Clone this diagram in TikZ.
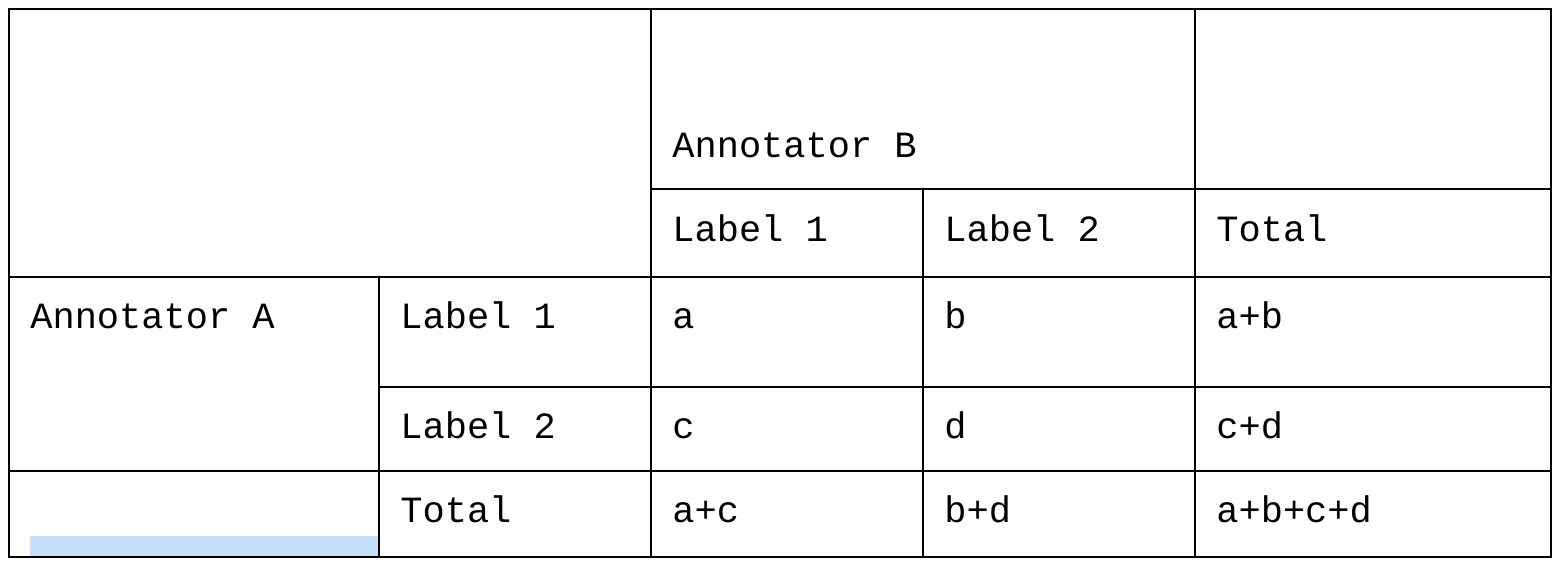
\documentclass[tikz,border=0pt]{standalone}
\usepackage{fontspec}
\setmonofont{Liberation Mono}
\usepackage{tikz}
\definecolor{selblue}{HTML}{C6E0FC}
\tikzstyle{cell} = [anchor=base west, inner sep=0pt, font=\ttfamily\fontsize{18.5}{22}\selectfont, text=black]
\tikzstyle{grid} = [line width=1pt, black]

\begin{document}
\begin{tikzpicture}[x=0.5pt, y=-0.5pt]
		\useasboundingbox (0,0) rectangle (1562,564);
		\fill [selblue] (30,536) rectangle (379,557);
		% header
		\node (annb) [cell] at (672,157) {Annotator B};
		\node (hl1) [cell] at (672,241) {Label 1};
		\node (hl2) [cell] at (944,241) {Label 2};
		\node (htot) [cell] at (1216,241) {Total};
		% rows
		\node (anna) [cell] at (30,328) {Annotator A};
		\node (rl1) [cell] at (400,328) {Label 1};
		\node (ca) [cell] at (672,328) {a};
		\node (cb) [cell] at (944,328) {b};
		\node (cab) [cell] at (1216,328) {a+b};
		\node (rl2) [cell] at (400,438) {Label 2};
		\node (cc) [cell] at (672,438) {c};
		\node (cd) [cell] at (944,438) {d};
		\node (ccd) [cell] at (1216,438) {c+d};
		\node (rtot) [cell] at (400,522) {Total};
		\node (cac) [cell] at (672,522) {a+c};
		\node (cbd) [cell] at (944,522) {b+d};
		\node (call) [cell] at (1216,522) {a+b+c+d};
		% grid lines
		\draw [grid] (9,9) rectangle (1551,557);
		\draw [grid] (651,189) -- (1551,189);
		\draw [grid] (9,277) -- (1551,277);
		\draw [grid] (379,387) -- (1551,387);
		\draw [grid] (9,471) -- (1551,471);
		\draw [grid] (379,277) -- (379,557);
		\draw [grid] (651,9) -- (651,557);
		\draw [grid] (923,189) -- (923,557);
		\draw [grid] (1195,9) -- (1195,557);
	\end{tikzpicture}
\end{document}
